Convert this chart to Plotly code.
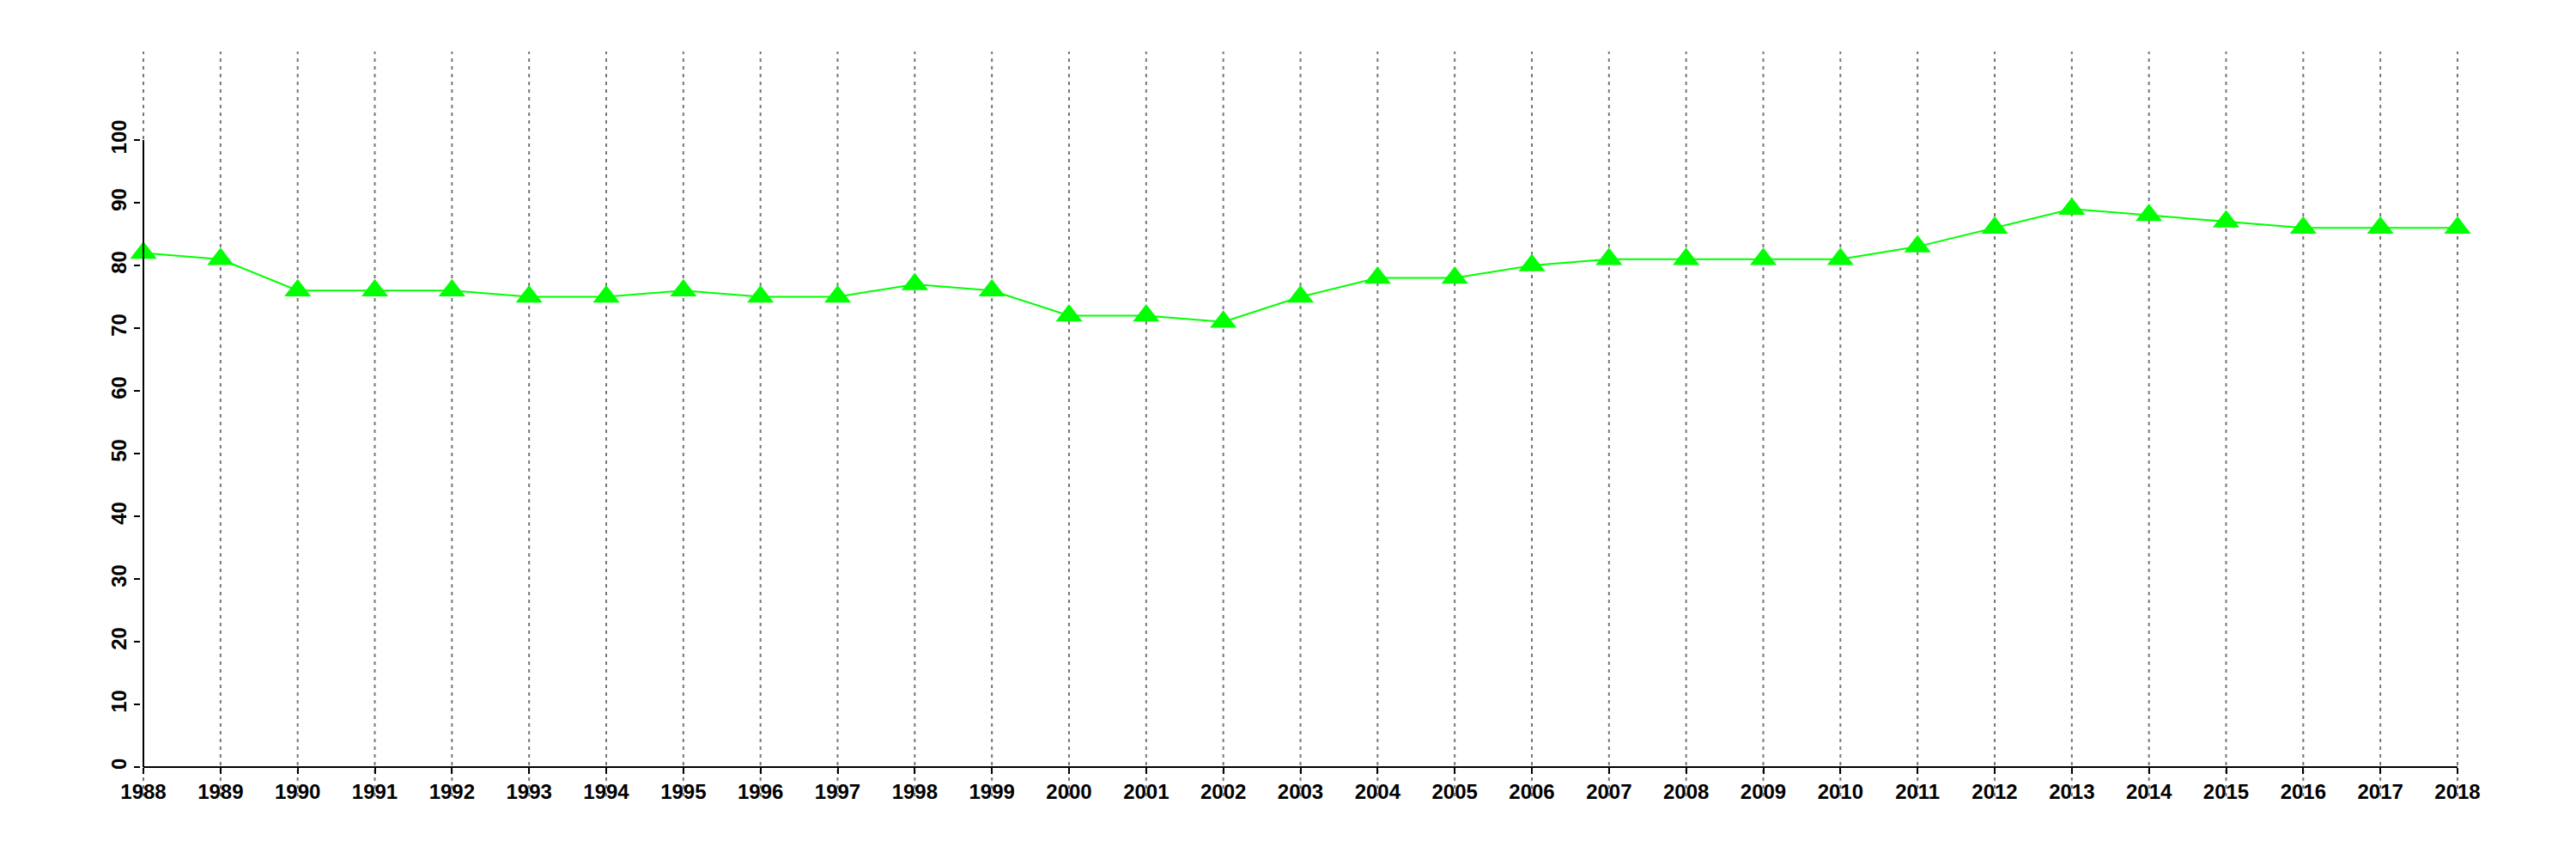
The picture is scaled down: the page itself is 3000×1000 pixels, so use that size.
import plotly.graph_objects as go

years = list(range(1988, 2019))
values = [82, 81, 76, 76, 76, 75, 75, 76, 75, 75, 77, 76, 72, 72, 71, 75, 78, 78, 80,
          81, 81, 81, 81, 83, 86, 89, 88, 87, 86, 86, 86]
y_ticks = list(range(0, 101, 10))

OFF = 8  # default page body margin
W, H = 3000 - 2 * OFF, 1000 - 2 * OFF
x_left_px, x_right_px = 167 - OFF, 2862 - OFF
y_zero_px, y_top_px = 893 - OFF, 60 - OFF
grid_bottom_px = 927 - OFF
px_per_unit = 7.3
pad = 0.03
px_per_year = (x_right_px - x_left_px) / (years[-1] - years[0])

x_dom = [(x_left_px - pad * px_per_year) / W, (x_right_px + pad * px_per_year) / W]
y_dom = [(H - y_zero_px) / H, (H - y_top_px) / H]
y_max = (y_zero_px - y_top_px) / px_per_unit

font = dict(family="Liberation Sans", size=24, color="black", weight="bold")

fig = go.Figure()
fig.add_trace(go.Scatter(
    x=years, y=values, mode="lines+markers",
    line=dict(color="#00FF00", width=2),
    marker=dict(symbol="triangle-up", size=27, color="#00FF00"),
    cliponaxis=False, showlegend=False,
))

shapes = []
for yr in years:
    shapes.append(dict(type="line", xref="x", yref="paper", x0=yr, x1=yr,
                       y0=(H - grid_bottom_px) / H, y1=y_dom[1],
                       line=dict(color="#777777", width=2, dash="4px,5px"), layer="below"))
shapes.append(dict(type="line", xref="x", yref="paper", x0=years[0], x1=years[-1],
                   y0=y_dom[0], y1=y_dom[0], line=dict(color="black", width=2), layer="above"))
shapes.append(dict(type="line", xref="x", yref="y", x0=years[0], x1=years[0],
                   y0=y_ticks[0], y1=y_ticks[-1], line=dict(color="black", width=2), layer="above"))

fig.update_layout(
    width=W, height=H,
    margin=dict(l=0, r=0, t=0, b=0),
    paper_bgcolor="white", plot_bgcolor="white",
    shapes=shapes,
    xaxis=dict(domain=x_dom, range=[years[0] - pad, years[-1] + pad],
               tickvals=years, ticktext=[str(y) for y in years],
               ticks="outside", ticklen=7, tickwidth=2, tickcolor="black",
               showgrid=False, zeroline=False, showline=False, automargin=False,
               tickfont=font, tickangle=0),
    yaxis=dict(domain=y_dom, range=[0, y_max],
               tickvals=y_ticks, ticktext=[str(v) for v in y_ticks],
               ticks="outside", ticklen=7, tickwidth=2, tickcolor="black",
               showgrid=False, zeroline=False, showline=False, automargin=False,
               tickfont=font, tickangle=-90),
)

fig.write_html("out.html")
